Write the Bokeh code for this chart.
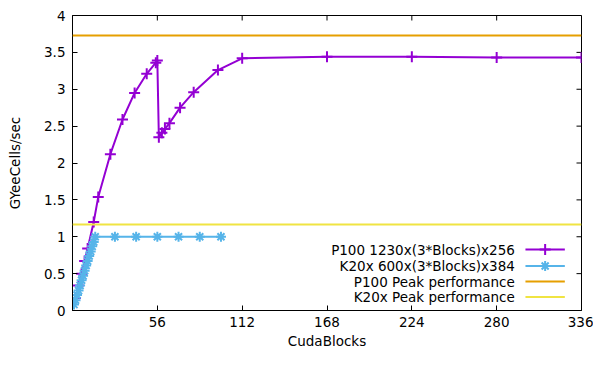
import math
from bokeh.plotting import figure
from bokeh.models import FixedTicker, Range1d, Span
from bokeh.core.properties import value
from bokeh.embed import file_html
from bokeh.resources import INLINE

# ---- data ----
p100_blocks = [2, 4, 6, 8, 10, 14, 17, 25, 33, 41, 49, 55, 56, 57, 59, 61, 64, 71, 80, 96, 112, 168, 224, 280, 336]
p100_perf = [0.17, 0.34, 0.50, 0.67, 0.84, 1.20, 1.54, 2.12, 2.59, 2.95, 3.21, 3.36, 3.39, 2.35, 2.41, 2.46, 2.54, 2.75, 2.96, 3.26, 3.42, 3.44, 3.44, 3.43, 3.43]

k20_blocks = [1, 2, 3, 4, 5, 6, 7, 8, 9, 10, 11, 12, 13, 14, 15, 28, 42, 56, 70, 84, 98]
k20_perf = [0.08, 0.14, 0.21, 0.27, 0.34, 0.41, 0.47, 0.54, 0.61, 0.67, 0.74, 0.80, 0.87, 0.93, 1.00, 1.00, 1.00, 1.00, 1.00, 1.00, 1.00]

p100_peak = 3.73
k20_peak = 1.167

x_ticks = [56, 112, 168, 224, 280, 336]
y_ticks = [0, 0.5, 1, 1.5, 2, 2.5, 3, 3.5, 4]
y_tick_labels = ["0", "0.5", "1", "1.5", "2", "2.5", "3", "3.5", "4"]

legend_labels = ["P100 1230x(3*Blocks)x256", "K20x 600x(3*Blocks)x384",
                 "P100 Peak performance", "K20x Peak performance"]

PURPLE = "#9400D3"
BLUE = "#56B4E9"
ORANGE = "#E69F00"
YELLOW = "#F0E442"
FONT = "DejaVu Sans"
FS = "13.5px"
XMIN, XMAX, YMIN, YMAX = 0, 336, 0, 4

p = figure(width=593, height=351, x_range=Range1d(XMIN, XMAX), y_range=Range1d(YMIN, YMAX),
           output_backend="svg", toolbar_location=None,
           min_border_left=72, min_border_right=12, min_border_top=15, min_border_bottom=0,
           x_axis_label="CudaBlocks", y_axis_label="GYeeCells/sec")
p.grid.visible = False
p.outline_line_color = "black"
p.outline_line_width = 1
p.background_fill_color = "white"
p.border_fill_color = "white"

def style_axis(ax, ticks):
    ax.ticker = FixedTicker(ticks=ticks)
    ax.major_tick_in = 5
    ax.major_tick_out = 0
    ax.minor_tick_line_color = None
    ax.axis_line_color = "black"
    ax.major_tick_line_color = "black"
    ax.major_label_text_font = FONT
    ax.major_label_text_font_size = FS
    ax.major_label_text_color = "black"
    ax.axis_label_text_font = FONT
    ax.axis_label_text_font_size = FS
    ax.axis_label_text_font_style = "normal"
    ax.axis_label_text_color = "black"

style_axis(p.xaxis[0], x_ticks)
p.xaxis[0].major_label_standoff = 6
p.xaxis[0].axis_label_standoff = 3
style_axis(p.yaxis[0], y_ticks)
p.yaxis[0].major_label_overrides = {t: l for t, l in zip(y_ticks, y_tick_labels)}
p.yaxis[0].major_label_standoff = 7
p.yaxis[0].axis_label_standoff = 18

# mirrored ticks on top and right (gnuplot style)
p.ray(x=x_ticks, y=[YMAX] * len(x_ticks), length=5, length_units="screen",
      angle=-math.pi / 2, line_color="black", line_width=1)
p.ray(x=[XMAX] * len(y_ticks), y=y_ticks, length=5, length_units="screen",
      angle=math.pi, line_color="black", line_width=1)

# peak lines
p.add_layout(Span(location=p100_peak, dimension="width", line_color=ORANGE, line_width=2))
p.add_layout(Span(location=k20_peak, dimension="width", line_color=YELLOW, line_width=2))

# series
p.line(p100_blocks, p100_perf, line_color=PURPLE, line_width=2)
p.scatter(p100_blocks, p100_perf, marker="cross", size=11, line_color=PURPLE, line_width=2)
p.line(k20_blocks, k20_perf, line_color=BLUE, line_width=2)
p.scatter(k20_blocks, k20_perf, marker="asterisk", size=10, line_color=BLUE, line_width=2)

# legend (gnuplot-style: text right-aligned, sample to the right)
leg_x_text = 292
leg_x0, leg_x1, leg_xm = 299, 325, 312
leg_y = [0.826, 0.603, 0.393, 0.184]
leg_colors = [PURPLE, BLUE, ORANGE, YELLOW]
p.text(x=[leg_x_text] * 4, y=leg_y, text=legend_labels, text_align="right",
       text_baseline="middle", text_font=value(FONT), text_font_size=FS, text_color="black")
p.segment(x0=[leg_x0] * 4, y0=leg_y, x1=[leg_x1] * 4, y1=leg_y, line_color=leg_colors, line_width=2)
p.scatter([leg_xm], [leg_y[0]], marker="cross", size=11, line_color=PURPLE, line_width=2)
p.scatter([leg_xm], [leg_y[1]], marker="asterisk", size=10, line_color=BLUE, line_width=2)

open("out.html", "w").write(file_html(p, INLINE))
